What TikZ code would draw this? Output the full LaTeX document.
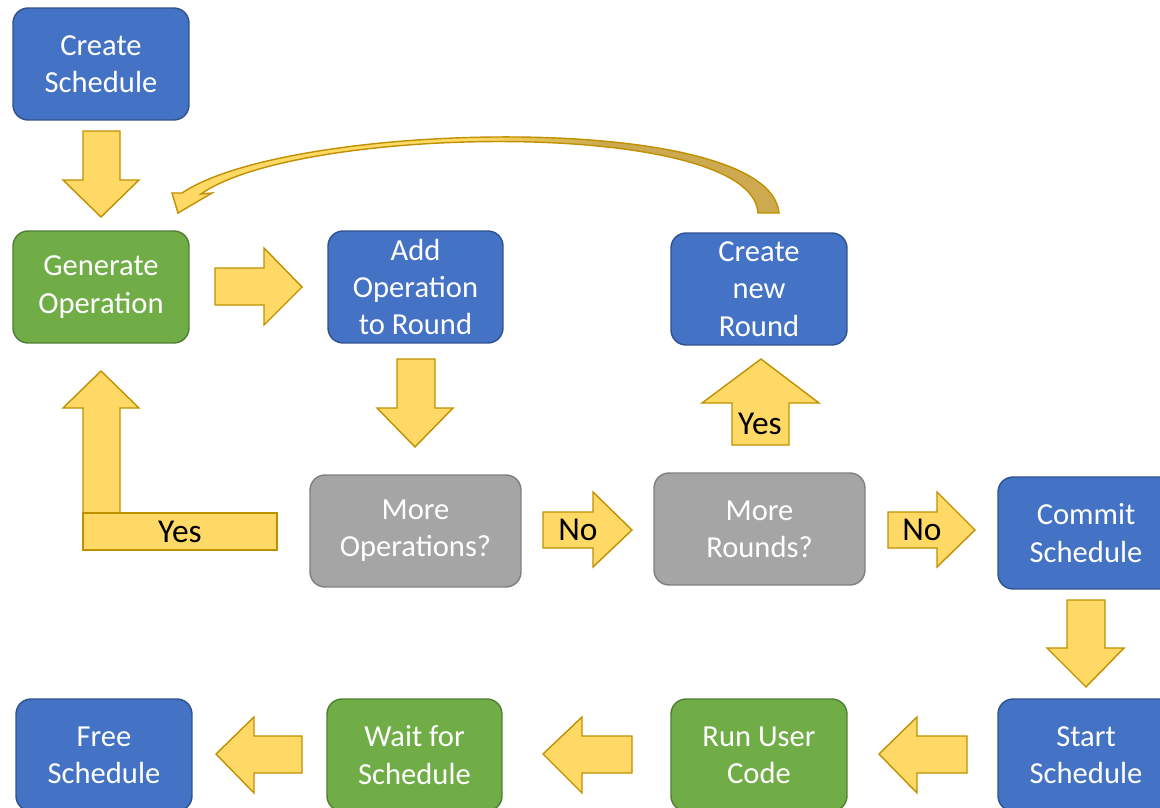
\documentclass[tikz,border=0pt]{standalone}
\usepackage{fontspec}
\setmainfont{Carlito}
\definecolor{boxblue}{HTML}{4472C4}
\definecolor{boxblueb}{HTML}{2F528F}
\definecolor{boxgreen}{HTML}{70AD47}
\definecolor{boxgreenb}{HTML}{507E32}
\definecolor{boxgray}{HTML}{A5A5A5}
\definecolor{boxgrayb}{HTML}{7F7F7F}
\definecolor{arryel}{HTML}{FFD966}
\definecolor{arrbord}{HTML}{BF9000}
\definecolor{arrdark}{HTML}{CDAA50}
\tikzset{
  flowbox/.style={rounded corners=0.3cm, minimum width=3.52cm, minimum height=2.24cm,
    inner sep=0pt, align=center, text=white, line width=0.8pt,
    font=\fontsize{17.4}{21.2}\selectfont},
  bluebox/.style={flowbox, fill=boxblue, draw=boxblueb},
  greenbox/.style={flowbox, fill=boxgreen, draw=boxgreenb},
  graybox/.style={flowbox, fill=boxgray, draw=boxgrayb, minimum width=4.22cm},
  blockarrow/.style={fill=arryel, draw=arrbord, line width=0.8pt, line join=miter},
  arrlabel/.style={inner sep=0pt, text=black, font=\fontsize{19}{22}\selectfont}
}
\begin{document}
\begin{tikzpicture}[x=0.02cm, y=-0.02cm]
\useasboundingbox (0,0) rectangle (1160,808);
\clip (0,0) rectangle (1160,808);

% nodes
\node[bluebox]  (cs)  at (101,64)   {Create\\Schedule};
\node[greenbox] (go)  at (101,287)  {Generate\\Operation};
\node[bluebox, minimum width=3.5cm] (aor) at (415.5,287) {Add\\Operation\\to Round};
\node[bluebox]  (cnr) at (759,289)  {Create\\new\\Round};
\node[graybox]  (mo)  at (415.5,531) {More\\Operations?};
\node[graybox]  (mr)  at (759.5,529) {More\\Rounds?};
\node[bluebox]  (com) at (1086,533) {Commit\\Schedule};
\node[bluebox]  (ss)  at (1086,755) {Start\\Schedule};
\node[bluebox]  (fs)  at (104,755)  {Free\\Schedule};
\node[greenbox, minimum width=3.5cm] (wfs) at (414.5,755) {Wait for\\Schedule};
\node[greenbox] (ruc) at (759,755)  {Run User\\Code};

% Create -> Generate (down)
\draw[blockarrow] (83,131) -- (120,131) -- (120,180) -- (139,180) -- (101,217) -- (63,180) -- (83,180) -- cycle;
% Generate -> Add (right)
\draw[blockarrow] (215,268) -- (264,268) -- (264,248) -- (302,287) -- (264,325) -- (264,305) -- (215,305) -- cycle;
% Add -> More Operations (down)
\draw[blockarrow] (397,359) -- (435,359) -- (435,408) -- (453,408) -- (415,447) -- (377,408) -- (397,408) -- cycle;
% Yes: More Operations -> Generate (L shape)
\draw[blockarrow] (83,513) -- (83,408) -- (63,408) -- (101,371) -- (139,408) -- (120,408) -- (120,513) -- cycle;
\draw[blockarrow] (83,513) rectangle (277,550);
\node[arrlabel] (yes1) at (180,532) {Yes};
% No: More Operations -> More Rounds
\draw[blockarrow] (543,512) -- (593,512) -- (593,492) -- (632,530) -- (593,567) -- (593,548) -- (543,548) -- cycle;
\node[arrlabel] (no1) at (578,530) {No};
% No: More Rounds -> Commit
\draw[blockarrow] (888,512) -- (937,512) -- (937,492) -- (975,530) -- (937,567) -- (937,548) -- (888,548) -- cycle;
\node[arrlabel] (no2) at (922,530) {No};
% Yes: More Rounds -> Create new Round (up)
\draw[blockarrow] (732,445) -- (732,403) -- (702,403) -- (761,359) -- (819,403) -- (789,403) -- (789,445) -- cycle;
\node[arrlabel] (yes2) at (760,424) {Yes};
% Commit -> Start (down)
\draw[blockarrow] (1067,600) -- (1105,600) -- (1105,648) -- (1124,648) -- (1086,687) -- (1047,648) -- (1067,648) -- cycle;
% Start -> Run (left)
\draw[blockarrow] (967,736) -- (917,736) -- (917,717) -- (879,754) -- (917,793) -- (917,773) -- (967,773) -- cycle;
% Run -> Wait (left)
\draw[blockarrow] (632,736) -- (582,736) -- (582,717) -- (543,754) -- (582,793) -- (582,773) -- (632,773) -- cycle;
% Wait -> Free (left)
\draw[blockarrow] (302,736) -- (254,736) -- (254,717) -- (216,754) -- (254,793) -- (254,773) -- (302,773) -- cycle;

% curved arrow: Create new Round -> Generate Operation
\def\curvedpath{(779,213) .. controls (770,110) and (290,120) .. (182,193) -- (172,193) -- (178,213) -- (212,193) -- (201,194) .. controls (300,124) and (752,118) .. (758,213) -- cycle}
\fill[arryel] \curvedpath;
\begin{scope}
  \clip \curvedpath;
  \shade[left color=arryel, right color=arrdark] (470,100) rectangle (600,225);
  \fill[arrdark] (600,100) rectangle (800,225);
\end{scope}
\draw[arrbord, line width=0.8pt, line join=miter] \curvedpath;
\end{tikzpicture}
\end{document}
